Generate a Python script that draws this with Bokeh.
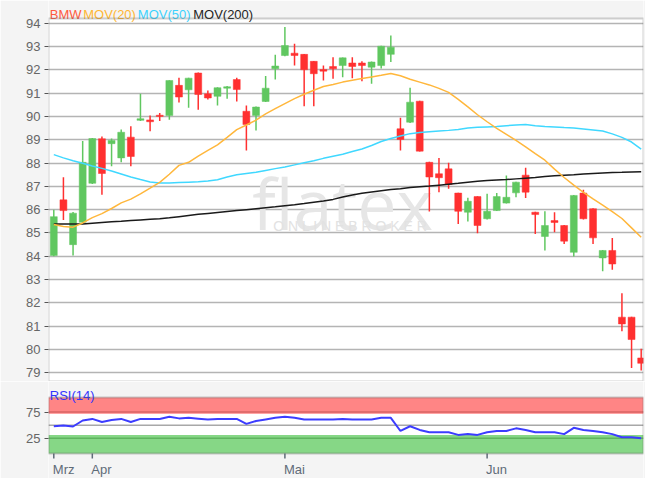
import numpy as np
from bokeh.plotting import figure
from bokeh.layouts import column
from bokeh.models import Range1d, FixedTicker, Label, BoxAnnotation, Span, ColumnDataSource
from bokeh.embed import file_html
from bokeh.resources import INLINE
from bokeh.core.properties import value

# ---- data ----
opens = [84.03, 86.42, 84.50, 85.46, 87.13, 89.04, 88.83, 88.22, 89.11, 89.83,
         89.85, 90.05, 90.04, 91.33, 91.14, 91.86, 90.97, 90.86, 91.21, 91.58,
         90.22, 90.04, 90.64, 92.04, 92.61, 92.71, 92.66, 92.36, 92.01, 92.14,
         92.18, 92.29, 92.29, 92.11, 92.18, 92.66, 89.47, 89.75, 90.65, 88.03,
         87.54, 87.75, 86.71, 85.89, 86.56, 85.61, 85.96, 86.28, 86.72, 87.48,
         85.89, 84.85, 85.53, 85.32, 84.17, 86.71, 86.04, 83.93, 84.25, 81.39,
         81.39, 79.64]
highs = [86.00, 87.39, 85.90, 88.94, 89.07, 89.14, 89.05, 89.44, 89.58, 90.97,
         90.04, 90.14, 91.55, 91.66, 91.66, 91.88, 91.11, 91.25, 91.30, 91.66,
         90.47, 90.42, 91.73, 92.64, 93.83, 93.12, 92.68, 92.38, 92.18, 92.54,
         92.53, 92.54, 92.36, 92.35, 93.03, 93.47, 89.94, 91.23, 90.67, 88.05,
         88.21, 88.01, 86.73, 86.51, 86.58, 86.68, 86.71, 87.46, 87.20, 87.80,
         85.91, 85.93, 85.89, 85.34, 86.63, 86.85, 86.06, 84.27, 84.78, 82.42,
         81.41, 80.03]
lows = [84.00, 85.56, 84.03, 85.40, 87.10, 86.64, 87.86, 88.03, 87.86, 89.80,
        89.36, 89.80, 89.86, 90.60, 90.37, 90.28, 90.72, 90.47, 90.76, 90.64,
        88.54, 89.40, 90.62, 91.58, 92.58, 92.18, 90.44, 90.44, 91.54, 91.61,
        91.68, 91.64, 91.51, 91.40, 92.05, 92.33, 88.54, 89.72, 88.49, 85.92,
        86.75, 86.90, 85.39, 85.49, 84.99, 85.58, 85.94, 86.26, 86.53, 86.50,
        84.96, 84.25, 85.03, 84.53, 83.99, 85.58, 84.53, 83.36, 83.42, 80.78,
        79.21, 79.10]
closes = [85.70, 85.96, 85.85, 88.03, 89.05, 87.55, 88.97, 89.32, 88.28, 89.90,
          89.77, 90.00, 91.54, 90.83, 91.64, 90.94, 90.79, 91.23, 91.27, 91.15,
          89.65, 90.40, 91.21, 92.16, 93.04, 92.61, 92.00, 91.83, 91.94, 92.04,
          92.51, 92.14, 92.18, 92.33, 93.01, 92.97, 89.01, 90.61, 88.51, 87.40,
          87.37, 87.08, 85.93, 86.36, 85.32, 85.93, 86.56, 86.53, 87.18, 86.75,
          85.79, 85.32, 85.45, 84.65, 86.61, 85.61, 84.79, 84.25, 83.67, 81.10,
          80.43, 79.41]
mov20 = [85.36, 85.28, 85.25, 85.43, 85.66, 85.83, 86.05, 86.29, 86.45, 86.68,
         86.92, 87.17, 87.52, 87.90, 88.03, 88.30, 88.54, 88.78, 89.10, 89.43,
         89.63, 89.84, 90.11, 90.33, 90.55, 90.76, 90.95, 91.12, 91.28, 91.37,
         91.47, 91.55, 91.62, 91.69, 91.76, 91.84, 91.74, 91.59, 91.47, 91.35,
         91.20, 91.03, 90.73, 90.41, 90.07, 89.77, 89.49, 89.23, 88.97, 88.69,
         88.40, 88.12, 87.74, 87.38, 87.05, 86.74, 86.46, 86.19, 85.92, 85.62,
         85.22, 84.82]
mov50 = [88.36, 88.22, 88.10, 87.99, 87.87, 87.77, 87.66, 87.53, 87.40, 87.29,
         87.19, 87.14, 87.14, 87.16, 87.18, 87.20, 87.23, 87.28, 87.40, 87.50,
         87.55, 87.60, 87.68, 87.76, 87.83, 87.92, 88.01, 88.10, 88.20, 88.29,
         88.38, 88.49, 88.60, 88.75, 88.92, 89.05, 89.16, 89.26, 89.31, 89.34,
         89.37, 89.40, 89.44, 89.50, 89.53, 89.55, 89.57, 89.60, 89.63, 89.65,
         89.60, 89.57, 89.55, 89.52, 89.50, 89.46, 89.42, 89.37, 89.25, 89.10,
         88.90, 88.60]
mov200 = [85.39, 85.39, 85.39, 85.39, 85.42, 85.45, 85.48, 85.50, 85.53, 85.56,
          85.59, 85.61, 85.65, 85.70, 85.75, 85.80, 85.84, 85.88, 85.92, 85.96,
          86.00, 86.04, 86.08, 86.12, 86.17, 86.21, 86.26, 86.32, 86.37, 86.44,
          86.54, 86.63, 86.70, 86.76, 86.81, 86.86, 86.90, 86.95, 86.98, 87.01,
          87.05, 87.09, 87.13, 87.18, 87.22, 87.25, 87.27, 87.29, 87.32, 87.35,
          87.38, 87.42, 87.45, 87.48, 87.50, 87.53, 87.55, 87.57, 87.59, 87.60,
          87.62, 87.63]
rsi14 = [48, 49.4, 47.5, 59, 62, 56, 60, 62, 56, 62,
         62, 62, 66, 63, 64, 62.5, 61, 62, 62, 62,
         52.6, 58, 61, 64, 66, 64, 61, 61, 61, 61,
         62, 61, 61, 61, 64, 64, 39, 48, 41, 36.5,
         36.5, 36.5, 31.5, 33, 31.5, 36.5, 39, 39, 44, 41,
         36.5, 36.5, 36.5, 33, 45, 41, 39, 36.5, 33, 27,
         27, 25]
price_ticks = list(range(79, 95))
rsi_ticks = [25, 75]
month_ticks = [0, 4, 24, 45]
month_labels = ["Mrz", "Apr", "Mai", "Jun"]
legend_names = ["BMW", "MOV(20)", "MOV(50)", "MOV(200)"]

# ---- styling / layout ----
GREEN = "#60c760"
RED = "#ff3030"
BG = "#f4f4f4"
FONT = "Liberation Sans"

# main panel: plot area 78.63..94.2; frame extended up to hold the legend line
P_LO, P_HI, P_TOP = 78.63, 94.2, 94.97
# RSI panel: plot area -4.1..102.9; frame extended above/below for title and months
R_LO, R_HI = -4.1, 102.9
R_MIN, R_MAX = -51.6, 133.3
RPX = 1.901  # RSI units per pixel

n = len(closes)
xs = np.arange(n)
colors = [GREEN if c >= o else RED for o, c in zip(opens, closes)]
src = ColumnDataSource(dict(
    x=xs, h=highs, l=lows,
    top=[max(o, c) for o, c in zip(opens, closes)],
    bottom=[min(o, c) for o, c in zip(opens, closes)],
    color=colors))

xr = Range1d(-0.55, 61.24)

p1 = figure(width=645, height=381, output_backend="svg", toolbar_location=None,
            x_range=xr, y_range=Range1d(P_LO, P_TOP), x_axis_location=None,
            min_border_left=48, min_border_right=2, min_border_top=0, min_border_bottom=0,
            background_fill_color="white", border_fill_color=BG,
            outline_line_color=None)
p1.xgrid.visible = False
p1.yaxis.ticker = FixedTicker(ticks=price_ticks)
p1.ygrid.grid_line_color = "#b4b4b4"
p1.ygrid.grid_line_width = 1.5
ax = p1.yaxis[0]
ax.axis_line_color = None
ax.major_tick_line_color = "#555555"
ax.major_tick_out = 4
ax.major_tick_in = 0
ax.minor_tick_line_color = None
ax.major_label_standoff = 4
ax.major_label_text_font = FONT
ax.major_label_text_font_size = "13px"
ax.major_label_text_color = "#666666"

p1.add_layout(BoxAnnotation(bottom=P_HI, fill_color=BG, fill_alpha=1.0,
                            line_color=None, level="underlay"))

# watermark
p1.text(x=[30.0], y=[86.3], text=["flatex"], text_font=value("Open Sans"),
        text_font_size="70px", text_color="#e6e6e6", text_align="center",
        text_baseline="alphabetic")
p1.text(x=[31.2], y=[85.32], text=["O N L I N E   B R O K E R"], text_font=value(FONT),
        text_font_size="14px", text_color="#e2e2e2", text_align="center",
        text_baseline="middle")

p1.segment(x0="x", y0="h", x1="x", y1="l", line_color="color", line_width=1.5, source=src)
p1.vbar(x="x", width=0.72, top="top", bottom="bottom", fill_color="color",
        line_color="color", line_width=0.5, source=src)

p1.line(xs, mov200, line_color="#1a1a1a", line_width=1.5)
p1.line(xs, mov50, line_color="#40d8ff", line_width=1.5)
p1.line(xs, mov20, line_color="#ffb73c", line_width=1.5)

# plot-area border
p1.add_layout(BoxAnnotation(top=P_HI, fill_alpha=0.0, line_color="#666666",
                            line_width=2, level="overlay"))

leg_colors = ["#ff5a40", "#ffb733", "#3cd2ff", "#1e1e1e"]
leg_x = [1.3, 34.7, 89.3, 144.7]
for t, c, lx in zip(legend_names, leg_colors, leg_x):
    p1.add_layout(Label(x=lx, y=P_HI + 0.16, x_units="screen", y_units="data", text=t,
                        text_color=c, text_font=FONT, text_font_size="13px",
                        text_baseline="alphabetic"))

# ---- RSI panel ----
p2 = figure(width=645, height=97, output_backend="svg", toolbar_location=None,
            x_range=xr, y_range=Range1d(R_MIN, R_MAX), x_axis_location=None,
            min_border_left=48, min_border_right=2, min_border_top=0, min_border_bottom=0,
            background_fill_color="white", border_fill_color=BG,
            outline_line_color=None)
p2.xgrid.visible = False
p2.ygrid.visible = False
p2.add_layout(BoxAnnotation(bottom=R_HI, fill_color=BG, fill_alpha=1.0,
                            line_color=None, level="underlay"))
p2.add_layout(BoxAnnotation(top=R_LO, fill_color=BG, fill_alpha=1.0,
                            line_color=None, level="underlay"))
p2.add_layout(BoxAnnotation(bottom=72, top=R_HI, fill_color="#ff8585", fill_alpha=1.0,
                            line_color=None, level="underlay"))
p2.add_layout(BoxAnnotation(bottom=R_LO, top=31.5, fill_color="#86d786", fill_alpha=1.0,
                            line_color=None, level="underlay"))
p2.add_layout(Span(location=75, dimension="width", line_color="#d86464",
                   line_width=1.5, level="underlay"))
p2.add_layout(Span(location=25, dimension="width", line_color="#5fb45f",
                   line_width=1.5, level="underlay"))
p2.add_layout(Span(location=50, dimension="width", line_color="#a8a8a8",
                   line_width=1.5, level="underlay"))
p2.line(xs, rsi14, line_color="#3c3cff", line_width=2)
p2.add_layout(BoxAnnotation(bottom=R_LO, top=R_HI, fill_alpha=0.0, line_color="#555555",
                            line_width=2, level="overlay"))

ay = p2.yaxis[0]
ay.ticker = FixedTicker(ticks=rsi_ticks)
ay.axis_line_color = None
ay.major_tick_line_color = "#555555"
ay.major_tick_out = 4
ay.major_tick_in = 0
ay.minor_tick_line_color = None
ay.major_label_standoff = 4
ay.major_label_text_font = FONT
ay.major_label_text_font_size = "13px"
ay.major_label_text_color = "#666666"

# month ticks and names (names start at their tick)
p2.segment(x0=month_ticks, y0=[R_LO] * len(month_ticks), x1=month_ticks,
           y1=[R_LO - 5 * RPX] * len(month_ticks), line_color="#5f6b78", line_width=1.5)
p2.text(x=month_ticks, y=[R_LO - 8 * RPX] * len(month_ticks), text=month_labels,
        x_offset=-1, text_color="#5f6b78", text_font=value(FONT), text_font_size="13px",
        text_align="left", text_baseline="top")

p2.add_layout(Label(x=1.3, y=R_HI + 2 * RPX, x_units="screen", y_units="data", text="RSI(14)",
                    text_color="#3333ff", text_font=FONT, text_font_size="13px",
                    text_baseline="alphabetic"))

layout = column(p1, p2, spacing=0)
open("out.html", "w").write(file_html(layout, INLINE))
